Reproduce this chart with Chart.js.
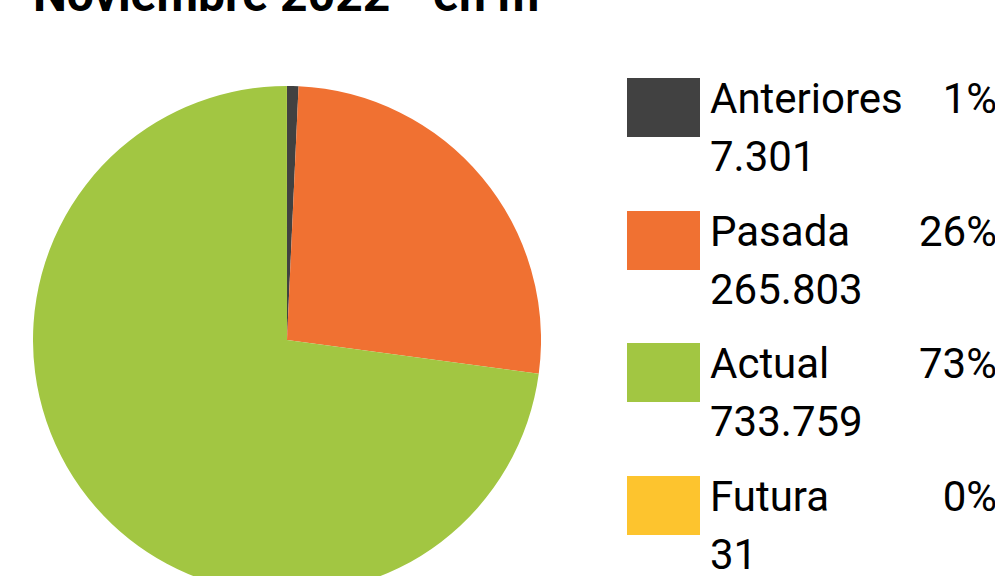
<!DOCTYPE html>
<html lang="es">
<head>
<meta charset="utf-8">
<title>Noviembre 2022 - en m³</title>
<script src="https://cdn.jsdelivr.net/npm/chart.js@4/dist/chart.umd.min.js"></script>
<style>
    html, body {
        margin: 0;
        padding: 0;
        width: 995px;
        height: 576px;
        overflow: hidden;
        background: #fff;
        font-family: Roboto, "Noto Sans", sans-serif;
        color: #000;
    }
    #wrap { position: relative; width: 995px; height: 576px; }
    .title {
        position: absolute;
        left: 33px;
        top: -29px;
        font-size: 48px;
        line-height: 48px;
        font-weight: 700;
        white-space: nowrap;
    }
    #pie { position: absolute; left: 33px; top: 86px; }
    .item { position: absolute; left: 627px; width: 370px; height: 120px; }
    .swatch { position: absolute; left: 0; top: 0; width: 73px; height: 59px; }
    .line {
        position: absolute;
        left: 83px;
        right: 0;
        font-size: 42px;
        line-height: 42px;
        white-space: nowrap;
    }
    .pct { position: absolute; right: 0; top: 0; }
</style>
</head>
<body>
<div id="wrap">
    <div class="title">Noviembre 2022 - en m³</div>
    <canvas id="pie" width="508" height="508"></canvas>
    <div id="legend"></div>
</div>
<script>
const labels = ['Anteriores', 'Pasada', 'Actual', 'Futura'];
const values = [7301, 265803, 733759, 31];
const colors = ['#414141', '#F07132', '#A2C642', '#FDC42E'];

function fmt(n) {
    return String(n).replace(/\B(?=(\d{3})+(?!\d))/g, '.');
}

const ctx = document.getElementById('pie').getContext('2d');
const chart = new Chart(ctx, {
    type: 'pie',
    data: {
        labels: labels,
        datasets: [{
            data: values,
            backgroundColor: colors,
            borderWidth: 0
        }]
    },
    options: {
        responsive: false,
        animation: false,
        layout: { padding: 0 },
        plugins: {
            legend: { display: false },
            tooltip: { enabled: false }
        }
    }
});

// legend built from the chart's own data
const legend = document.getElementById('legend');
const total = values.reduce((a, b) => a + b, 0);
chart.data.labels.forEach((label, i) => {
    const v = chart.data.datasets[0].data[i];
    const pct = Math.round(v / total * 100);
    const item = document.createElement('div');
    item.className = 'item';
    item.style.top = Math.round(78 + i * 132.7) + 'px';
    item.innerHTML =
        `<div class="swatch" style="background:${colors[i]}"></div>
         <div class="line" style="top:0px">${label}<span class="pct">${pct}%</span></div>
         <div class="line" style="top:58px">${fmt(v)}</div>`;
    legend.appendChild(item);
});
</script>
</body>
</html>
